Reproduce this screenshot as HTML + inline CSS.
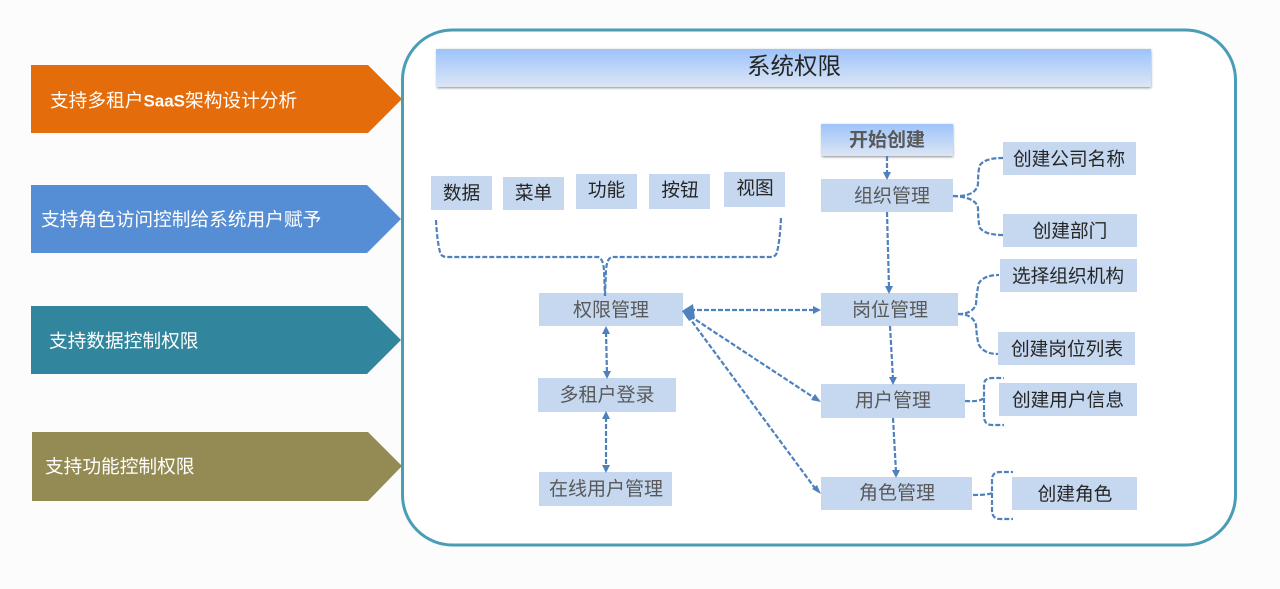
<!DOCTYPE html>
<html lang="zh">
<head>
<meta charset="utf-8">
<style>
html,body{margin:0;padding:0;width:1280px;height:589px;overflow:hidden;background:#fcfcfc}
svg{display:block}
text{font-family:"Liberation Sans","Noto Sans CJK SC",sans-serif;text-anchor:middle;dominant-baseline:central;transform:translateY(1px)}
.n{fill:#c5d8f0}
.t{font-size:18.7px;fill:#262626}
.g{font-size:19px;fill:#595959}
.w{font-size:18.7px;fill:#fff;text-anchor:start}
.c{fill:none;stroke:#4f81bd;stroke-width:2.2;stroke-dasharray:5 2}
.a{fill:#4f81bd}
</style>
</head>
<body>
<svg width="1280" height="589" viewBox="0 0 1280 589" xmlns="http://www.w3.org/2000/svg">
<defs>
<linearGradient id="b" x1="0" y1="0" x2="0" y2="1"><stop offset="0" stop-color="#9dc3fb"/><stop offset="1" stop-color="#dce6f4"/></linearGradient>
<filter id="s" x="-5%" y="-30%" width="110%" height="160%"><feGaussianBlur stdDeviation="1.2"/></filter>
</defs>
<rect width="1280" height="589" fill="#fcfcfc"/>

<polygon points="31,65 368,65 402,99 368,133 31,133" fill="#e46c0a"/>
<polygon points="31,185 367,185 401,219 367,253 31,253" fill="#558ed5"/>
<polygon points="31,306 367,306 401,340 367,374 31,374" fill="#31859c"/>
<polygon points="32,432 368,432 402,466 368,501 32,501" fill="#948a54"/>
<text class="w" x="50" y="99.5">支持多租户<tspan style="font-size:17px;font-weight:bold">SaaS</tspan>架构设计分析</text>
<text class="w" x="41" y="218.5">支持角色访问控制给系统用户赋予</text>
<text class="w" x="49" y="340">支持数据控制权限</text>
<text class="w" x="45" y="465.5">支持功能控制权限</text>

<rect x="402.5" y="30" width="833" height="515" rx="50" fill="#fff" stroke="#4a9db5" stroke-width="3"/>

<rect x="437" y="50" width="714" height="38" fill="#8c8c8c" filter="url(#s)"/>
<rect x="436" y="49" width="715" height="38" fill="url(#b)"/>
<text x="794" y="65" style="font-size:23.5px;fill:#262626">系统权限</text>

<rect class="n" x="431" y="176" width="61" height="34"/><text class="t" x="461.5" y="192">数据</text>
<rect class="n" x="503" y="177" width="61" height="33"/><text class="t" x="533.5" y="192">菜单</text>
<rect class="n" x="576" y="174" width="61" height="35"/><text class="t" x="606.5" y="189">功能</text>
<rect class="n" x="649" y="174" width="61" height="35"/><text class="t" x="680" y="189">按钮</text>
<rect class="n" x="724" y="172" width="61" height="35"/><text class="t" x="755" y="187">视图</text>

<rect class="n" x="539" y="293" width="144" height="33"/><text class="g" x="611" y="309.5">权限管理</text>
<rect class="n" x="538" y="378" width="138" height="34"/><text class="g" x="607" y="394.5">多租户登录</text>
<rect class="n" x="539" y="472" width="133" height="34"/><text class="g" x="606" y="488.5">在线用户管理</text>

<path class="c" d="M436,220 Q437,240 440,252 Q441,257 447,257 L598,257 Q603,258 604,270 L605,296"/>
<path class="c" d="M781,218 Q780,240 777,252 Q776,257 770,257 L612,257 Q607,258 606,270 L605,296"/>

<rect x="822" y="125" width="131" height="32" fill="#8c8c8c" filter="url(#s)"/>
<rect x="821" y="124" width="132" height="32" fill="url(#b)"/>
<text x="887" y="139.5" style="font-size:19px;font-weight:bold;fill:#595959">开始创建</text>

<rect class="n" x="821" y="179" width="132" height="33"/><text class="g" x="892" y="195.5">组织管理</text>
<rect class="n" x="821" y="293" width="137" height="33"/><text class="g" x="890" y="309.5">岗位管理</text>
<rect class="n" x="821" y="384" width="144" height="34"/><text class="g" x="893" y="400">用户管理</text>
<rect class="n" x="821" y="477" width="151" height="33"/><text class="g" x="897" y="492.5">角色管理</text>

<rect class="n" x="1003" y="142" width="133" height="33"/><text class="t" x="1069" y="158">创建公司名称</text>
<rect class="n" x="1003" y="214" width="134" height="33"/><text class="t" x="1070" y="230">创建部门</text>
<rect class="n" x="1000" y="259" width="137" height="33"/><text class="t" x="1068" y="275">选择组织机构</text>
<rect class="n" x="998" y="332" width="137" height="33"/><text class="t" x="1067" y="348">创建岗位列表</text>
<rect class="n" x="999" y="383" width="138" height="33"/><text class="t" x="1068" y="399">创建用户信息</text>
<rect class="n" x="1012" y="477" width="125" height="33"/><text class="t" x="1075" y="493">创建角色</text>

<!-- vertical flow -->
<path class="c" d="M887,156 L887,174"/><polygon class="a" points="883,172 891,172 887,180"/>
<path class="c" d="M887,212 L889,288"/><polygon class="a" points="885,286 893,286 889,294"/>
<path class="c" d="M890,326 L893,379"/><polygon class="a" points="889,377 897,377 893,385"/>
<path class="c" d="M893,418 L896,472"/><polygon class="a" points="892,470 900,470 896,478"/>

<!-- left column double arrows -->
<path class="c" d="M606,332 L607,374"/><polygon class="a" points="606,326 602,334 610,334"/><polygon class="a" points="607,379 603,371 611,371"/>
<path class="c" d="M606,417 L606,468"/><polygon class="a" points="606,411 602,419 610,419"/><polygon class="a" points="606,473 602,465 610,465"/>

<!-- fan out arrows -->
<path class="c" d="M690,310 L816,310"/>
<polygon class="a" points="682,311 693,304 695,318 689,321"/>
<polygon class="a" points="821,310 813,306 813,314"/>
<path class="c" d="M690,316 L816,399"/>
<polygon class="a" points="821,402 811,400 815,394"/>
<path class="c" d="M688,316 L817,491"/>
<polygon class="a" points="821,494 812,489 817,485"/>

<!-- right braces -->
<path class="c" d="M953,196 Q976,197 978,184 Q978,170 980,165 Q985,158 1003,158"/>
<path class="c" d="M953,196 Q976,197 978,208 Q978,222 980,228 Q985,235 1003,235"/>
<path class="c" d="M958,314 Q973,314 976,304 Q977,290 979,283 Q984,275 999,275"/>
<path class="c" d="M958,314 Q973,314 976,325 Q977,340 979,345 Q984,354 998,354"/>
<path class="c" d="M965,401 Q980,402 984,398 L984,385 Q984,378 992,378 L1004,378"/>
<path class="c" d="M984,398 L984,416 Q984,425 992,425 L1004,425"/>
<path class="c" d="M973,495 Q988,495 992,493 L992,480 Q992,472 1000,472 L1013,472"/>
<path class="c" d="M992,493 L992,510 Q992,519 1000,519 L1013,519"/>
</svg>
</body>
</html>
